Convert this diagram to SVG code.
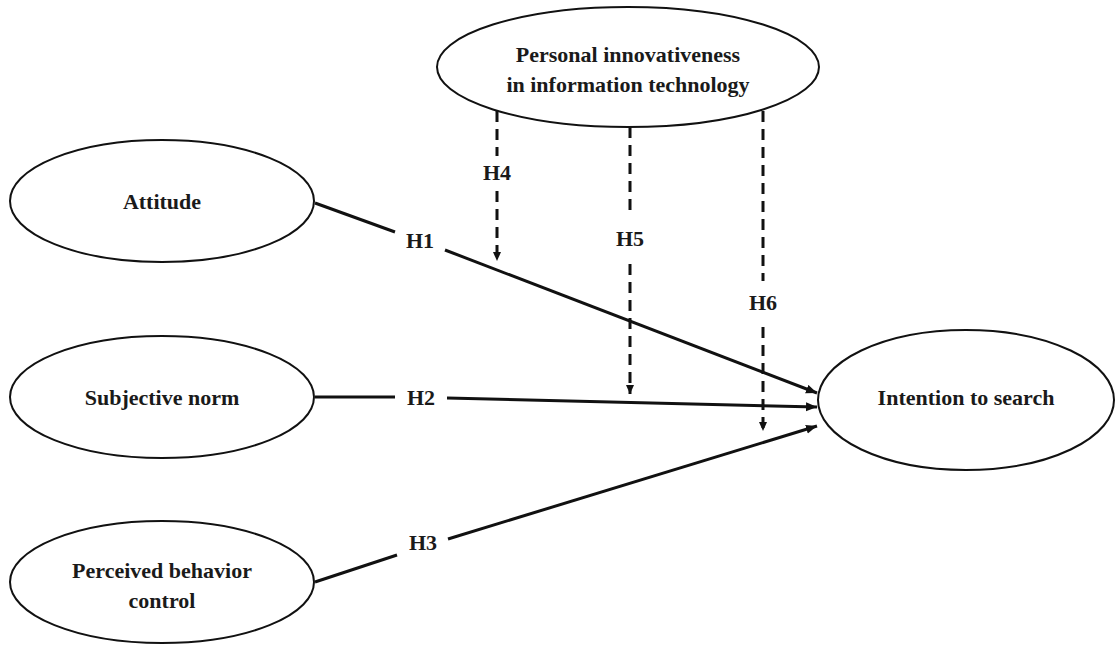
<svg xmlns="http://www.w3.org/2000/svg" width="1115" height="646" viewBox="0 0 1115 646">
<style>
.node ellipse{fill:#fff;stroke:#111;stroke-width:2}
text{font-family:"Liberation Serif","Times New Roman",serif;font-size:22px;font-weight:bold;fill:#1a1a1a;text-anchor:middle}
.solid{stroke:#111;stroke-width:3;fill:none}
.dash{stroke:#111;stroke-width:3;fill:none;stroke-dasharray:11 7}
</style>
<defs>
<marker id="arr" markerUnits="userSpaceOnUse" markerWidth="12" markerHeight="10" refX="11" refY="4.5" orient="auto">
<path d="M0,0 L11,4.5 L0,9 z" fill="#111"/>
</marker>
<marker id="arrd" markerUnits="userSpaceOnUse" markerWidth="10" markerHeight="10" refX="9" refY="4" orient="auto">
<path d="M0,0 L9,4 L0,8 z" fill="#111"/>
</marker>
</defs>
<rect width="1115" height="646" fill="#fff"/>
<g id="connectors">
<line class="solid" x1="315" y1="203" x2="395" y2="232"/>
<line class="solid" x1="445" y1="250" x2="817" y2="393" marker-end="url(#arr)"/>
<text x="420" y="248">H1</text>
<line class="solid" x1="315" y1="397" x2="395" y2="397"/>
<line class="solid" x1="447" y1="398" x2="817" y2="407" marker-end="url(#arr)"/>
<text x="421" y="405">H2</text>
<line class="solid" x1="315" y1="582" x2="397" y2="555"/>
<line class="solid" x1="448" y1="539" x2="817" y2="426" marker-end="url(#arr)"/>
<text x="423" y="550">H3</text>
<line class="dash" x1="497" y1="111" x2="497" y2="156"/>
<text x="497" y="180">H4</text>
<line class="dash" x1="497" y1="191" x2="497" y2="261" marker-end="url(#arrd)"/>
<line class="dash" x1="630" y1="127" x2="630" y2="216"/>
<text x="630" y="246">H5</text>
<line class="dash" x1="630" y1="264" x2="630" y2="394" marker-end="url(#arrd)"/>
<line class="dash" x1="763" y1="111" x2="763" y2="281"/>
<text x="763" y="310">H6</text>
<line class="dash" x1="763" y1="327" x2="763" y2="431" marker-end="url(#arrd)"/>
</g>
<g id="node-piit" class="node">
<ellipse cx="628" cy="67" rx="191" ry="60"/>
<text x="628" y="62">Personal innovativeness</text>
<text x="628" y="92">in information technology</text>
</g>
<g id="node-attitude" class="node">
<ellipse cx="162" cy="201" rx="152" ry="61"/>
<text x="162" y="209">Attitude</text>
</g>
<g id="node-subjective" class="node">
<ellipse cx="162" cy="397" rx="152" ry="61"/>
<text x="162" y="405">Subjective norm</text>
</g>
<g id="node-pbc" class="node">
<ellipse cx="162" cy="582" rx="152" ry="61"/>
<text x="162" y="578">Perceived behavior</text>
<text x="162" y="608">control</text>
</g>
<g id="node-intention" class="node">
<ellipse cx="966" cy="400" rx="148" ry="70"/>
<text x="966" y="405">Intention to search</text>
</g>
</svg>
